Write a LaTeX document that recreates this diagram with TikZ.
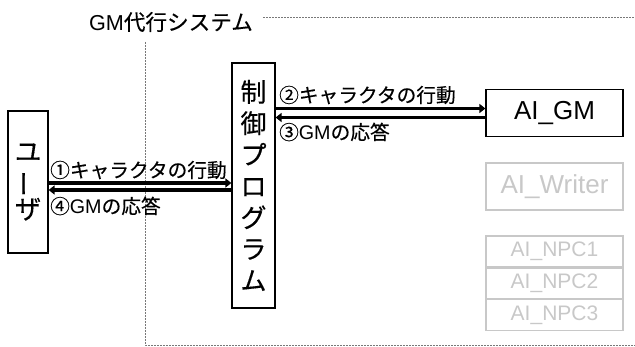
\documentclass[tikz,border=0pt]{standalone}
\usepackage{fontspec}
\usepackage{graphicx}
\setmainfont{Liberation Sans}
\newfontfamily\cjk[FakeBold=0.35]{Noto Sans CJK JP}
\usetikzlibrary{arrows.meta}
\definecolor{lightbox}{RGB}{200,200,200}
\definecolor{frameg}{RGB}{120,120,120}
\tikzset{
  blackbox/.style={draw=black, line width=1.2pt, inner sep=0pt},
  greybox/.style={draw=lightbox, line width=1.2pt, inner sep=0pt, text=lightbox},
  arr/.style={line width=3.8pt, -{Triangle[length=6pt,width=9pt]}},
  lbl/.style={anchor=west, inner sep=0pt, font=\fontsize{19.7}{19.7}\selectfont},
  frame/.style={draw=frameg, line width=0.9pt, dash pattern=on 1.6pt off 1.4pt},
}
\begin{document}
\begin{tikzpicture}[x=1pt,y=-1pt]
\useasboundingbox (0,0) rectangle (635,347);
% frame
\draw[frame] (263,17) -- (635,17);
\draw[frame] (145,42) -- (145,345) -- (635,345);
\node[anchor=east, inner sep=0pt, font=\fontsize{21.6}{21.6}\selectfont] (title) at (253,22) {GM{\cjk 代行システム}};
% boxes
\node[blackbox, minimum width=40pt, minimum height=142pt, align=center,
  font=\cjk\fontsize{26.5}{28}\selectfont] (user) at (28,182)
  {ユ\\\rotatebox[origin=c]{90}{ー}\\ザ};
\node[blackbox, minimum width=43pt, minimum height=245pt, align=center,
  font=\cjk\fontsize{26}{31.4}\selectfont] (ctrl) at (253.5,185.5)
  {制\\御\\プ\\ロ\\グ\\ラ\\ム};
\node[blackbox, minimum width=137pt, minimum height=47pt, font=\fontsize{26}{26}\selectfont] (aigm) at (554.5,113) {AI\_GM};
\node[greybox, minimum width=137pt, minimum height=47pt, font=\fontsize{26}{26}\selectfont] (writer) at (554.5,186.5) {AI\_Writer};
\node[greybox, minimum width=137pt, minimum height=31pt, font=\fontsize{21}{21}\selectfont] (npc1) at (554.5,251.5) {AI\_NPC1};
\node[greybox, minimum width=137pt, minimum height=30pt, font=\fontsize{21}{21}\selectfont, anchor=north] (npc2) at (npc1.south) {AI\_NPC2};
\node[greybox, minimum width=137pt, minimum height=31pt, font=\fontsize{21}{21}\selectfont, anchor=north] (npc3) at (npc2.south) {AI\_NPC3};
% arrows
\draw[arr] ([yshift=-1pt]user.east) -- ([yshift=-1pt]user.east -| ctrl.west);
\draw[arr] ([yshift=-8pt]user.east -| ctrl.west) -- ([yshift=-8pt]user.east);
\draw[arr] ([yshift=4.5pt]aigm.west -| ctrl.east) -- ([yshift=4.5pt]aigm.west);
\draw[arr] ([yshift=-4.5pt]aigm.west) -- ([yshift=-4.5pt]aigm.west -| ctrl.east);
% labels
\node[lbl] (l1) at (50,170) {\cjk ①キャラクタの行動};
\node[lbl] (l4) at (50,206) {{\cjk ④}GM{\cjk の応答}};
\node[lbl] (l2) at (279,95) {\cjk ②キャラクタの行動};
\node[lbl] (l3) at (279,132) {{\cjk ③}GM{\cjk の応答}};
\end{tikzpicture}
\end{document}
